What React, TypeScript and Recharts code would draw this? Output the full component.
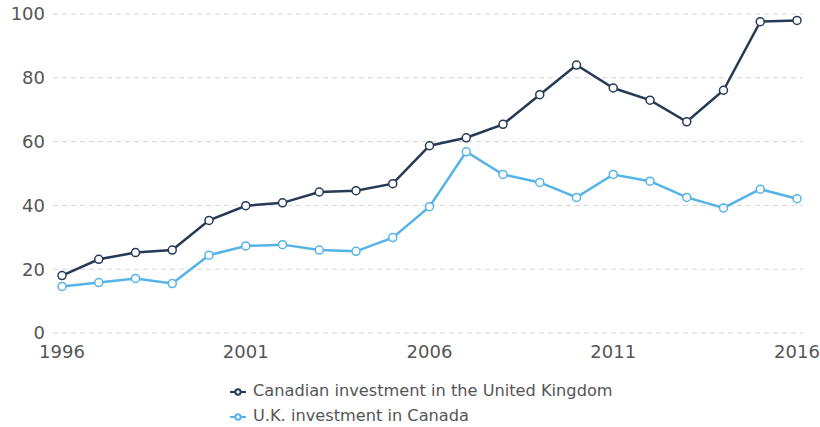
import { LineChart, Line, XAxis, YAxis, CartesianGrid, Legend } from 'recharts'

const years = [1996, 1997, 1998, 1999, 2000, 2001, 2002, 2003, 2004, 2005, 2006, 2007, 2008, 2009, 2010, 2011, 2012, 2013, 2014, 2015, 2016]
const canadaInUk = [18.0, 23.1, 25.2, 26.0, 35.3, 39.9, 40.8, 44.2, 44.6, 46.8, 58.7, 61.2, 65.4, 74.7, 84.0, 76.8, 73.0, 66.2, 76.1, 97.6, 98.0]
const ukInCanada = [14.6, 15.8, 17.1, 15.5, 24.4, 27.3, 27.7, 26.0, 25.6, 29.9, 39.6, 56.8, 49.7, 47.2, 42.5, 49.7, 47.6, 42.5, 39.2, 45.1, 42.1]
const xTicks = [1996, 2001, 2006, 2011, 2016]
const yTicks = [0, 20, 40, 60, 80, 100]

const data = years.map((year, i) => ({
    year,
    canada: canadaInUk[i],
    uk: ukInCanada[i],
}))

const font = '"DejaVu Sans", Verdana, sans-serif'

export default function App() {
    return (
        <div style={{ position: 'absolute', left: 0, top: 0, width: 820, height: 427, background: '#fff', fontFamily: font }}>
            <LineChart width={820} height={427} data={data} margin={{ top: 14, right: 17, left: 0, bottom: 20 }}>
                <CartesianGrid vertical={false} stroke="#d4d4d4" strokeDasharray="5 4" />
                <XAxis
                    dataKey="year"
                    type="number"
                    domain={[1996, 2016]}
                    ticks={xTicks}
                    padding={{ left: 9, right: 6 }}
                    axisLine={false}
                    tickLine={false}
                    tickSize={0}
                    tickMargin={12}
                    height={24}
                    tick={{ fill: '#555', fontSize: 18, fontFamily: font }}
                />
                <YAxis
                    domain={[0, 100]}
                    ticks={yTicks}
                    axisLine={false}
                    tickLine={false}
                    tickSize={0}
                    tickMargin={8}
                    width={53}
                    tick={{ fill: '#555', fontSize: 18, fontFamily: font }}
                />
                <Legend
                    layout="vertical"
                    align="center"
                    verticalAlign="bottom"
                    iconSize={16}
                    wrapperStyle={{ left: 230, top: 378, bottom: 'auto', width: 440, height: 50, fontSize: 16.2, lineHeight: '25px', fontFamily: font, textAlign: 'left' }}
                    formatter={(value) => <span style={{ color: '#555', marginLeft: 3 }}>{value}</span>}
                />
                <Line
                    dataKey="canada"
                    name="Canadian investment in the United Kingdom"
                    stroke="#263a55"
                    strokeWidth={2.5}
                    dot={{ r: 4, fill: '#fff', stroke: '#263a55', strokeWidth: 1.5 }}
                    isAnimationActive={false}
                />
                <Line
                    dataKey="uk"
                    name="U.K. investment in Canada"
                    stroke="#55b3e8"
                    strokeWidth={2.5}
                    dot={{ r: 4, fill: '#fff', stroke: '#55b3e8', strokeWidth: 1.5 }}
                    isAnimationActive={false}
                />
            </LineChart>
        </div>
    )
}
